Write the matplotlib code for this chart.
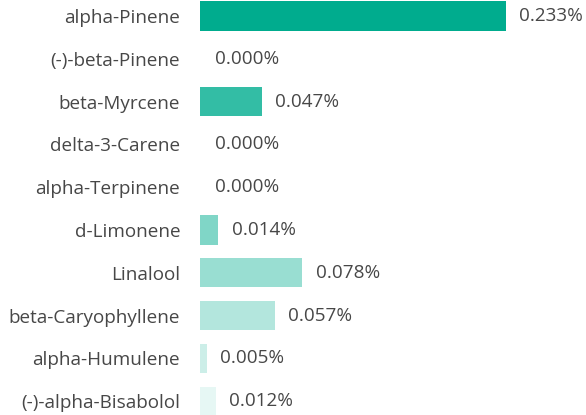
import matplotlib
matplotlib.use('Agg')
import matplotlib.pyplot as plt
from matplotlib.colors import to_rgb

# terpene profile, percent
terpenes = ['alpha-Pinene', '(-)-beta-Pinene', 'beta-Myrcene', 'delta-3-Carene',
            'alpha-Terpinene', 'd-Limonene', 'Linalool', 'beta-Caryophyllene',
            'alpha-Humulene', '(-)-alpha-Bisabolol']
values = [0.233, 0.000, 0.047, 0.000, 0.000, 0.014, 0.078, 0.057, 0.005, 0.012]

base = to_rgb('#00ac8e')
plt.rcParams['font.family'] = ['Open Sans', 'DejaVu Sans']

W, H, DPI = 586, 415, 100
fig = plt.figure(figsize=(W / DPI, H / DPI), dpi=DPI)
left_px, width_px = 200, 380
ax = fig.add_axes([left_px / W, 0, width_px / W, 1])

# fade colour by row: 1.0, 0.9, ... 0.1
colors = []
for i in range(len(values)):
    a = 1.0 - 0.1 * i
    colors.append(tuple(a * c + (1 - a) for c in base))

ypos = list(range(len(values)))
ax.barh(ypos, values, height=0.68, color=colors)

px_per_unit = 1313
ax.set_xlim(0, width_px / px_per_unit)
row_px = 42.8
ax.set_ylim((H - 16) / row_px, -16 / row_px)

for y, v in zip(ypos, values):
    ax.annotate(f'{v:.3f}%', (v, y), xytext=(9.5 if v > 0 else 11, 0),
                textcoords='offset points', va='center', ha='left',
                fontsize=13.6, color='#474747')

ax.set_yticks(ypos)
ax.set_yticklabels(terpenes, fontsize=13.6, color='#474747')
ax.tick_params(axis='y', length=0, pad=14.3)
ax.set_xticks([])
for s in ax.spines.values():
    s.set_visible(False)

fig.savefig('out.png', dpi=DPI)
